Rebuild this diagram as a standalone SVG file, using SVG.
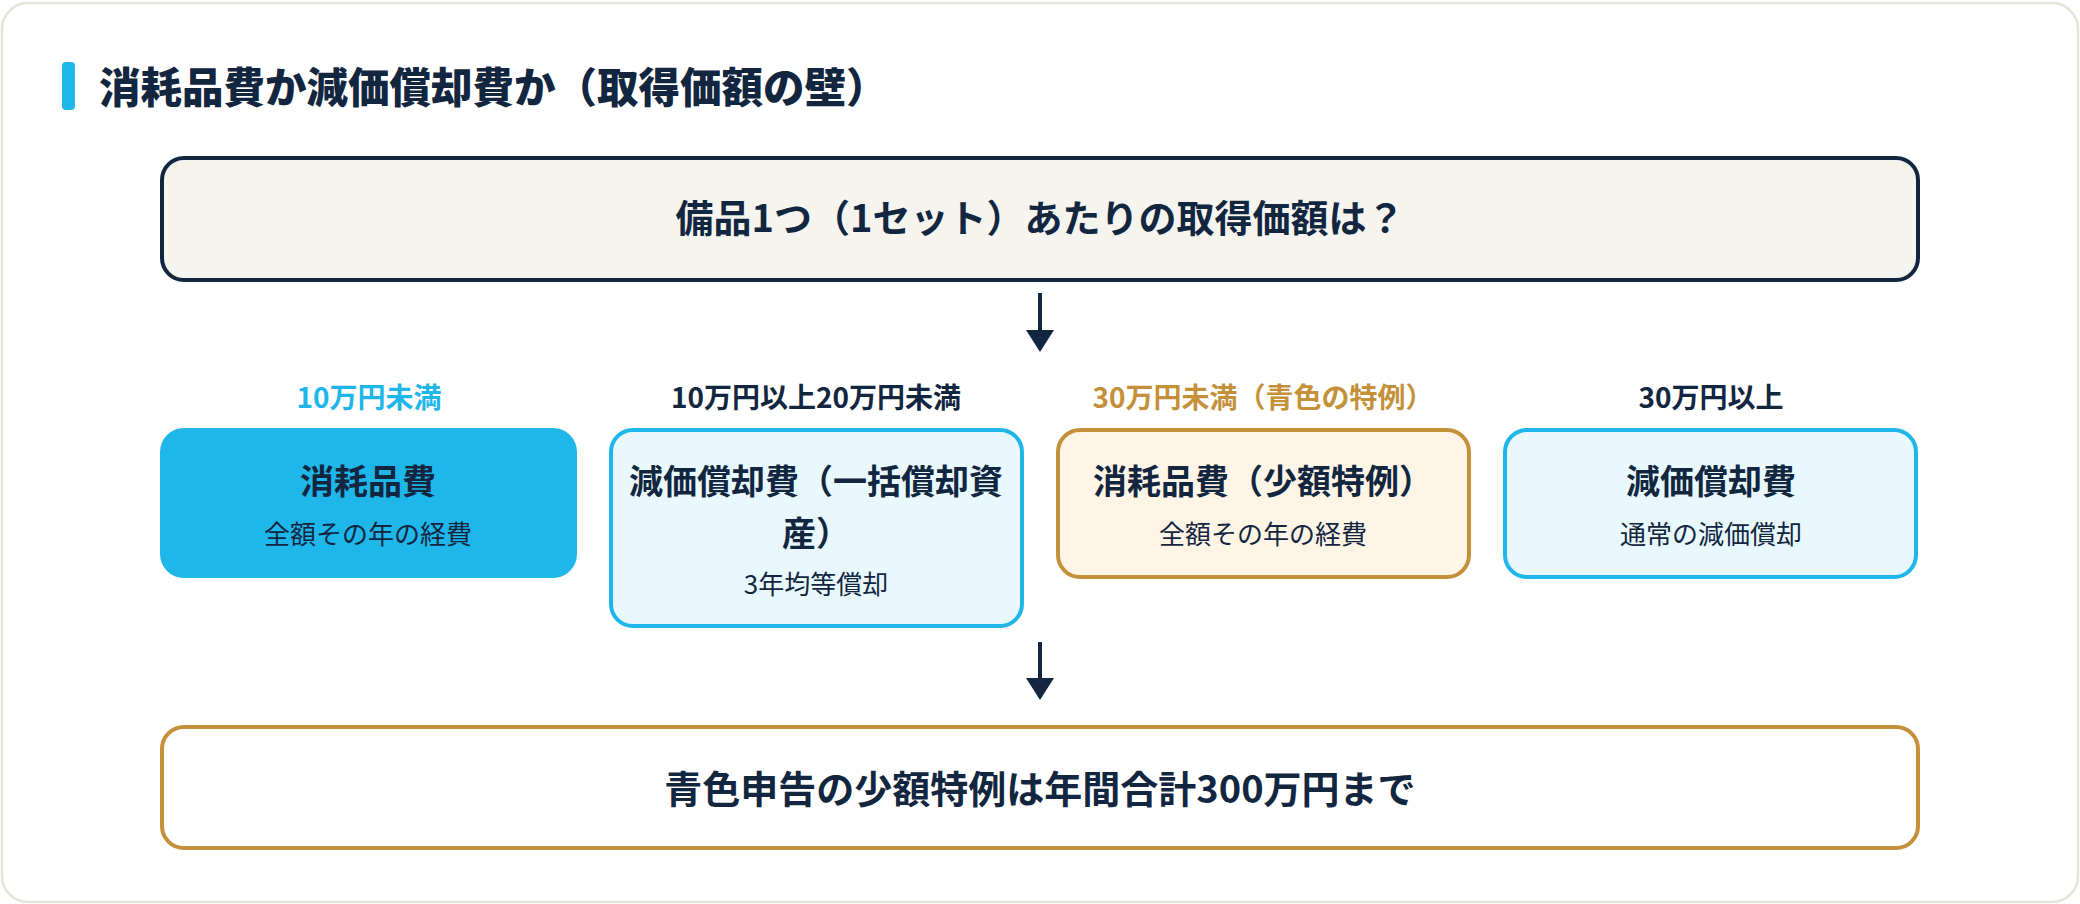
<svg xmlns="http://www.w3.org/2000/svg" width="2080" height="904" viewBox="0 0 2080 904">
<defs>
<style>
text{font-family:"Noto Sans CJK JP","Noto Sans",sans-serif;text-anchor:middle;fill:#12263f}
.h{font-size:34px;font-weight:700}
.s{font-size:26px;font-weight:400}
.lab{font-size:28px;font-weight:700}
.big{font-size:38px;font-weight:700}
.conn{stroke:#12263f;stroke-width:4;fill:none}
</style>
</defs>
<rect x="0" y="0" width="2080" height="904" fill="#ffffff"/>
<rect x="2" y="3" width="2076" height="899" rx="26" fill="#ffffff" stroke="#e5e3d9" stroke-width="2.5"/>
<g id="title">
<rect x="62" y="62" width="13" height="48" rx="4" fill="#1fb6ea"/>
<text x="99" y="103" style="font-size:41.5px;font-weight:900;text-anchor:start">消耗品費か減価償却費か（取得価額の壁）</text>
</g>
<g id="question">
<rect x="162" y="158" width="1756" height="122" rx="22" fill="#f5f4ef" stroke="#12263f" stroke-width="4"/>
<text class="big" x="1040" y="232">備品1つ（1セット）あたりの取得価額は？</text>
</g>
<g id="connectors">
<line class="conn" x1="1040" y1="293" x2="1040" y2="332"/>
<path d="M1026,330 L1054,330 L1040,352 Z" fill="#12263f"/>
<line class="conn" x1="1040" y1="642" x2="1040" y2="680"/>
<path d="M1026,678 L1054,678 L1040,700 Z" fill="#12263f"/>
</g>
<g id="col1">
<text class="lab" x="369" y="408" style="fill:#1fb6ea">10万円未満</text>
<rect x="160" y="428" width="417" height="150" rx="24" fill="#1fb6ea"/>
<text class="h" x="368" y="494">消耗品費</text>
<text class="s" x="368" y="544">全額その年の経費</text>
</g>
<g id="col2">
<text class="lab" x="816" y="408">10万円以上20万円未満</text>
<rect x="611" y="430" width="411" height="196" rx="22" fill="#e8f8fd" stroke="#1fb6ea" stroke-width="4"/>
<text class="h" x="816" y="494">減価償却費（一括償却資</text>
<text class="h" x="816" y="546">産）</text>
<text class="s" x="816" y="594">3年均等償却</text>
</g>
<g id="col3">
<text class="lab" x="1263" y="408" style="fill:#c4913a">30万円未満（青色の特例）</text>
<rect x="1058" y="430" width="411" height="147" rx="22" fill="#fef5e6" stroke="#c4913a" stroke-width="4"/>
<text class="h" x="1263" y="494">消耗品費（少額特例）</text>
<text class="s" x="1263" y="544">全額その年の経費</text>
</g>
<g id="col4">
<text class="lab" x="1711" y="408">30万円以上</text>
<rect x="1505" y="430" width="411" height="147" rx="22" fill="#e8f8fd" stroke="#1fb6ea" stroke-width="4"/>
<text class="h" x="1711" y="494">減価償却費</text>
<text class="s" x="1711" y="544">通常の減価償却</text>
</g>
<g id="summary">
<rect x="162" y="727" width="1756" height="121" rx="22" fill="#ffffff" stroke="#c4913a" stroke-width="4"/>
<text class="big" x="1040" y="803">青色申告の少額特例は年間合計300万円まで</text>
</g>
</svg>
